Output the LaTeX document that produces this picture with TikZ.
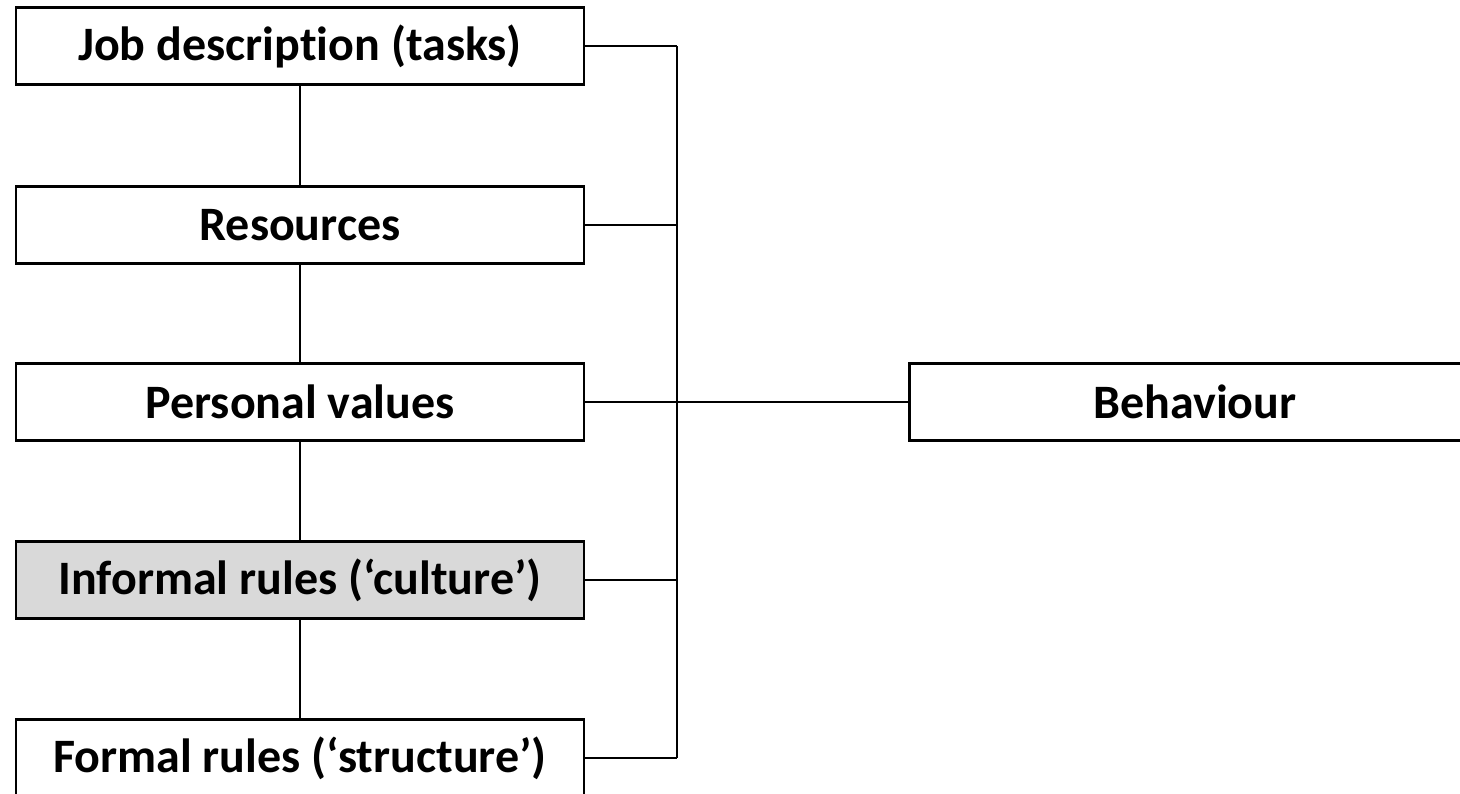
\documentclass[tikz,border=0pt]{standalone}
\usepackage{fontspec}
\setmainfont{Carlito}[Ligatures=CommonOff]
\tikzset{
  factor/.style={draw, line width=2.5pt, minimum width=568pt, minimum height=77pt,
    inner sep=0pt, font=\fontsize{48}{54}\selectfont\bfseries},
  link/.style={line width=2pt}
}
\begin{document}
\begin{tikzpicture}[x=1pt,y=-1pt]
\useasboundingbox (0,0) rectangle (1460,793);
\clip (0,0) rectangle (1460,793);
% left column of factors
\foreach \n/\y/\f/\t in {jd/46/white/Job description (tasks),
    res/225/white/Resources,
    pv/402/white/Personal values,
    inf/580/gray!30/Informal rules (‘culture’),
    form/758/white/Formal rules (‘structure’)} {
    \node[factor, fill=\f] (\n) at (300,\y) {\t};
}
\node[factor, minimum width=571pt] (beh) at (1195,402) {Behaviour};

% bus on the right
\coordinate (bustop) at (677,46);
\coordinate (busbot) at (677,758);
\draw[link] (bustop) -- (busbot);
\foreach \n in {jd,res,pv,inf,form}
    \draw[link] (\n.east) -- (\n.east -| bustop);
\draw[link] (pv.east -| bustop) -- (beh.west);

% links down the column
\draw[link] (jd) -- (res);
\draw[link] (res) -- (pv);
\draw[link] (pv) -- (inf);
\draw[link] (inf) -- (form);
\end{tikzpicture}
\end{document}
